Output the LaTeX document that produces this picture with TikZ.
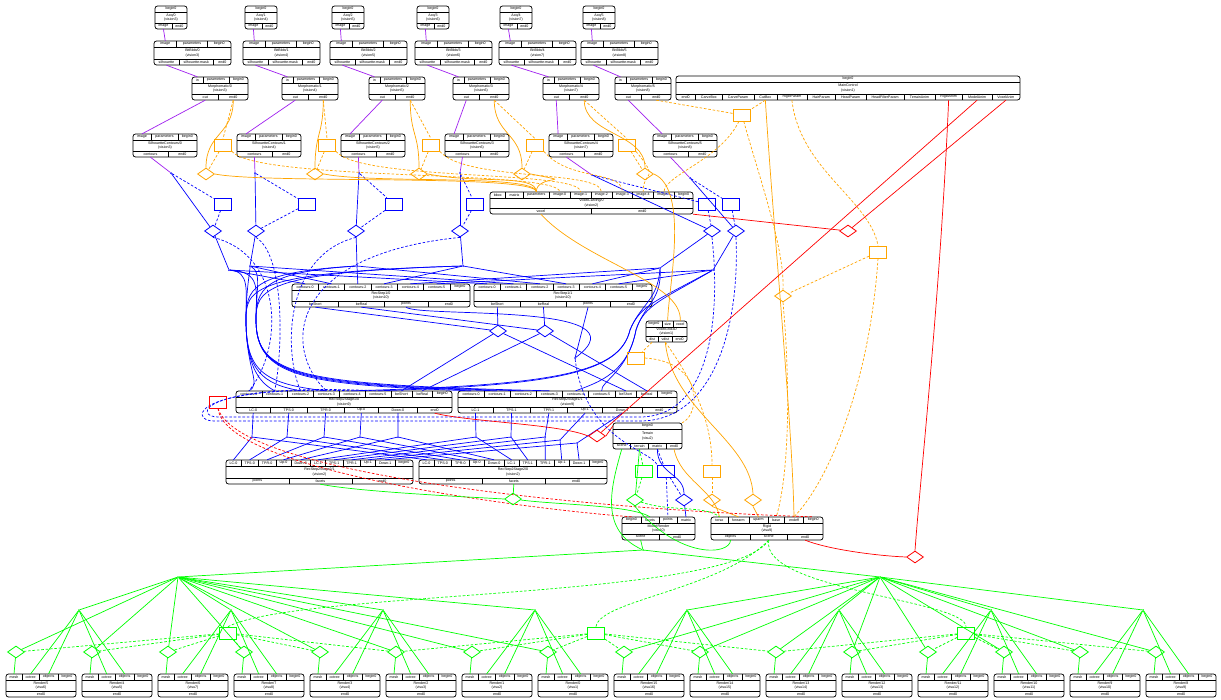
\documentclass[tikz,border=0pt]{standalone}
\usepackage{fontspec}
\setmainfont{Liberation Sans}
\usetikzlibrary{shapes.geometric}

\definecolor{vispurple}{HTML}{A020F0}
\definecolor{parorange}{HTML}{FFA500}
\definecolor{conblue}{HTML}{0000FF}
\definecolor{animred}{HTML}{FF0000}
\definecolor{scngreen}{HTML}{00FF00}

\newcommand{\tinyfont}{\fontsize{3.6}{4.3}\selectfont}

\tikzset{
  modbox/.style={draw, rounded corners=2.5pt, line width=0.75pt},
  sepline/.style={line width=0.45pt},
  cellnode/.style={inner sep=0pt, font=\tinyfont},
  titlenode/.style={inner sep=0pt, font=\tinyfont, align=center},
  prmbox/.style={draw, line width=0.8pt, minimum width=17pt, minimum height=12pt, inner sep=0pt},
  jctnode/.style={draw, diamond, line width=0.8pt, minimum width=17pt, minimum height=12pt, inner sep=0pt},
  hubdot/.style={circle, fill, inner sep=0pt, minimum size=2pt},
  wire/.style={line width=0.7pt},
  dwire/.style={wire, dash pattern=on 2.6pt off 1.8pt},
}

% one row of port cells: prefix, x1, x2, ytop, ybot, list
\newcommand{\cellrow}[6]{%
  \pgfmathsetmacro\rowmid{((#4)+(#5))/2}%
  \pgfmathsetmacro\rowh{(#5)-(#4)}%
  \gdef\rowsum{0}\gdef\rowcount{1}%
  \foreach \c [count=\nn] in {#6}{%
    \pgfmathwidth{"\c"}%
    \pgfmathsetmacro\tmpsum{\rowsum+\pgfmathresult+4}%
    \xdef\rowsum{\tmpsum}\xdef\rowcount{\nn}}%
  \pgfmathsetmacro\rowextra{((#3)-(#2)-\rowsum)/\rowcount}%
  \xdef\rowpos{#2}%
  \foreach \c [count=\i] in {#6}{%
    \pgfmathwidth{"\c"}%
    \pgfmathsetmacro\cw{\pgfmathresult+4+\rowextra}%
    \pgfmathsetmacro\cx{\rowpos+\cw/2}%
    \ifnum\i>1 \draw[sepline] (\rowpos,#4) -- (\rowpos,#5);\fi
    \node[cellnode, minimum width=\cw pt, minimum height=\rowh pt] (#1\i) at (\cx,\rowmid) {\c};
    \pgfmathsetmacro\nx{\rowpos+\cw}%
    \xdef\rowpos{\nx}}%
}

% module box: id, x1, x2, ytop, ybot, top ports, title, process, bottom ports
\newcommand{\module}[9]{%
  \pgfmathsetmacro\ya{(#4)+6}%
  \pgfmathsetmacro\yb{(#5)-6}%
  \draw[modbox] (#2,#4) rectangle (#3,#5);
  \draw[sepline] (#2,\ya) -- (#3,\ya);
  \draw[sepline] (#2,\yb) -- (#3,\yb);
  \cellrow{#1-t}{#2}{#3}{#4}{\ya}{#6}%
  \cellrow{#1-b}{#2}{#3}{\yb}{#5}{#9}%
  \node[titlenode] (#1) at ({((#2)+(#3))/2},{((#4)+(#5))/2}) {#7\\#8};
}

\begin{document}
\tinyfont
\begin{tikzpicture}[x=1pt, y=-1pt]
\fill[white] (0,0) rectangle (1221,699);
\useasboundingbox (0,0) rectangle (1221,699);

% Vision chains
\foreach \k/\ax/\bx/\mx/\sx/\vn in {0/155/154/192/133/3, 1/245/243/282/237/4, 2/332/330/369/341/5, 3/417/415/453/445/6, 4/500/499/543/549/7, 5/583/581/615/653/8}{
  \module{acq\k}{\ax}{\ax+32}{6}{29}{begin0}{Acq/\k}{(vision\vn)}{image, end0}
  \module{bb\k}{\bx}{\bx+77}{41}{65}{image, parameters, begin0}{BitBlob/\k}{(vision\vn)}{silhouette, silhouette-mask, end0}
  \module{mo\k}{\mx}{\mx+56}{77}{100}{in, parameters, begin0}{Morphomatic/\k}{(vision\vn)}{out, end0}
  \module{sc\k}{\sx}{\sx+64}{134}{157}{image, parameters, begin0}{SilhouetteContours/\k}{(vision\vn)}{contours, end0}
}

% Control, carving, grid
\module{mc}{676}{1020}{76}{100}{begin0}{MainControl}{(vision1)}{end0, CarveBox, CarveParam, CutBox, RigidParam, HairParam, HeadParam, HeadFilterParam, TerrainAnim, RigidAnim, ModelAnim, VoxelAnim}
\module{vc}{490}{693}{192}{214}{bbox, matrix, parameters, image-0, image-1, image-2, image-3, image-4, image-5, begin0}{VoxelCarving/0}{(vision2)}{voxel, end0}
\module{vg}{646}{687}{321}{342}{begin0, size, voxel}{VoxelGrid3D}{(vision1)}{dist, vdist, end0}

% Reconstruction
\foreach \k/\x in {0/292, 1/474}{
  \module{rsa\k}{\x}{\x+178}{284}{307}{contours-0, contours-1, contours-2, contours-3, contours-4, contours-5, begin0}{RecStep1/\k}{(vision10)}{beShort, beReal, points, end0}
}
\foreach \k/\x/\w in {0/236/216, 1/458/219}{
  \module{rsb\k}{\x}{\x+\w}{391}{413}{contours-0, contours-1, contours-2, contours-3, contours-4, contours-5, beShort, beReal, begin0}{RecStep2Stage1/\k}{(vision9)}{LC-\k, TPS-\k, TPR-\k, Up-\k, Down-\k, end0}
}
\module{rsc1}{226}{413}{460}{484}{LC-0, TPS-0, TPR-0, Up-0, Down-0, LC-1, TPS-1, TPR-1, Up-1, Down-1, begin0}{RecStep2Stage2/1}{(vision2)}{points, facets, end0}
\module{rsc0}{419}{607}{460}{484}{LC-0, TPS-0, TPR-0, Up-0, Down-0, LC-1, TPS-1, TPR-1, Up-1, Down-1, begin0}{RecStep2Stage2/0}{(vision2)}{points, facets, end0}

% Visualisation
\module{te}{613}{682}{423}{449}{begin0}{Terrain}{(visu2)}{scene, terrain, matrix, end0}
\module{mr}{622}{695}{517}{540}{begin0, facets, points, matrix}{ModelRender}{(visu10)}{scene, end0}
\module{rg}{711}{823}{517}{540}{torso, forearm, uparm, base, endeff, begin0}{Rigid}{(visu9)}{objects, scene, end0}
\foreach \p/\rn/\vn in {0/5/6, 1/4/5, 2/6/7, 3/7/8, 4/3/4, 5/2/3, 6/1/2, 7/0/1, 8/15/16, 9/14/15, 10/13/14, 11/12/13, 12/11/12, 13/10/11, 14/9/10, 15/8/9}{
  \pgfmathsetmacro\rx{6+76*\p}
  \module{rd\p}{\rx}{\rx+70}{674}{697}{mesh, octree, objects, begin0}{Render/\rn}{(visu\vn)}{end0}
}

% Image links
\foreach \k in {0,...,5}{
  \draw[wire, vispurple] (acq\k-b1.south) -- (bb\k-t1.north);
  \draw[wire, vispurple] (bb\k-b1.south) -- (mo\k-t1.north);
  \draw[wire, vispurple] (mo\k-b1.south) -- (sc\k-t1.north);
}

% Contour links
\foreach \k/\cx/\cy/\bx/\qx/\px/\py in {0/171/173/223/213/229/270, 1/255/173/307/256/250/266, 2/359/173/394/356/357/266, 3/460/173/475/460/463/266, 4/592/175/707/712/660/268, 5/690/178/731/736/713/270}{
  \node[hubdot, conblue] (ct\k) at (\cx,\cy) {};
  \node[prmbox, conblue] (pb\k) at (\bx,204) {};
  \node[jctnode, conblue] (jb\k) at (\qx,231) {};
  \node[hubdot, conblue] (pc\k) at (\px,\py) {};
}
\foreach \k in {0,...,5}{
  \pgfmathtruncatemacro\nk{\k+1}
  \draw[wire, vispurple] (sc\k-b1.south) -- (ct\k);
  \draw[dwire, conblue] (ct\k) -- (pb\k);
  \draw[dwire, conblue] (pb\k) -- (jb\k);
  \draw[wire, conblue] (ct\k) -- (jb\k);
  \draw[wire, conblue] (jb\k) -- (pc\k);
  \draw[wire, conblue] (pc\k) -- (rsa0-t\nk.north);
  \draw[wire, conblue] (pc\k) -- (rsa1-t\nk.north);
}
\foreach \k in {0,...,3}{
  \pgfmathtruncatemacro\nk{\k+1}
  \draw[wire, conblue] (pc\k) .. controls (250,272) and (246,290) .. (246,320) .. controls (246,370) and (262,384) .. (rsb0-t\nk.north);
  \draw[wire, conblue] (pc\k) .. controls (262,272) and (256,290) .. (256,320) .. controls (256,376) and (300,385) .. (rsb1-t\nk.north);
  \draw[dwire, conblue] (jb\k.south) .. controls (285,255) and (283,350) .. (rsb0-t\nk.north);
}
\foreach \k in {4,5}{
  \pgfmathtruncatemacro\nk{\k+1}
  \draw[wire, conblue] (pc\k) .. controls (658,300) and (640,305) .. (630,330) .. controls (620,372) and (560,385) .. (rsb0-t\nk.north);
  \draw[wire, conblue] (pc\k) .. controls (662,300) and (644,305) .. (636,330) .. controls (628,372) and (600,382) .. (rsb1-t\nk.north);
}
\draw[dwire, conblue] (jb4.south) .. controls (722,330) and (705,417) .. (640,417) -- (218,417) .. controls (195,417) and (196,386) .. (rsb0-t5.north);
\draw[dwire, conblue] (jb5.south) .. controls (740,330) and (712,421) .. (640,421) -- (214,421) .. controls (188,421) and (190,382) .. (rsb0-t6.north);

% Edge lists
\node[jctnode, conblue] (jb6) at (498,331) {};
\node[jctnode, conblue] (jb7) at (545,331) {};
\node[hubdot, conblue] (pj) at (575,358) {};
\foreach \k in {0,1}{
  \draw[wire, conblue] (rsa\k-b1.south) -- (jb6);
  \draw[wire, conblue] (rsa\k-b2.south) -- (jb7);
  \draw[wire, conblue] (jb6) -- (rsb\k-t7.north);
  \draw[wire, conblue] (jb7) -- (rsb\k-t8.north);
}
\draw[wire, conblue] (rsa0-b3.south) .. controls (420,318) and (650,302) .. (pj);
\draw[wire, conblue] (rsa1-b3.south) -- (pj);

% Stage outputs
\foreach \n/\ax/\bx/\by in {1/252/476/437, 2/287/511/437, 3/324/545/437, 4/360/560/440, 5/398/577/443}{
  \pgfmathtruncatemacro\m{\n+5}
  \node[hubdot, conblue] (ya\n) at (\ax,437) {};
  \node[hubdot, conblue] (yb\n) at (\bx,\by) {};
  \draw[wire, conblue] (rsb0-b\n.south) -- (ya\n);
  \draw[wire, conblue] (ya\n) -- (rsc1-t\n.north);
  \draw[wire, conblue] (ya\n) -- (rsc0-t\n.north);
  \draw[wire, conblue] (rsb1-b\n.south) -- (yb\n);
  \draw[wire, conblue] (yb\n) -- (rsc1-t\m.north);
  \draw[wire, conblue] (yb\n) -- (rsc0-t\m.north);
}

% Carving parameters
\foreach \k/\rx/\dx in {0/223/206, 1/327/315, 2/431/419, 3/535/522, 4/627/645}{
  \node[prmbox, parorange] (pa\k) at (\rx,145) {};
  \node[jctnode, parorange] (ja\k) at (\dx,174) {};
}
\node[prmbox, parorange] (pa5) at (742,115) {};
\node[prmbox, parorange] (pa6) at (878,252) {};
\node[prmbox, parorange] (pa7) at (636,358) {};
\node[prmbox, parorange] (pa8) at (712,471) {};
\node[jctnode, parorange] (ja5) at (783,296) {};
\node[jctnode, parorange] (ja6) at (712,500) {};
\node[jctnode, parorange] (ja7) at (753,500) {};
\foreach \k/\m in {0/4, 1/5, 2/6, 3/7, 4/8}{
  \draw[wire, parorange] (mo\k-b2.south) .. controls +(0,35) and +(0,-35) .. (ja\k.north);
  \draw[dwire, parorange] (mo\k-b2.south) -- (pa\k.north);
  \draw[dwire, parorange] (pa\k) -- (ja\k);
  \draw[dwire, parorange] (pa\k.south east) .. controls +(25,30) and +(0,-22) .. (vc-t\m.north);
}
\foreach \k in {0,...,3}{
  \draw[wire, parorange] (ja\k.east) .. controls +(50,10) and +(0,-18) .. (vc-t3.north);
}
\draw[wire, parorange] (ja4.east) .. controls (690,190) and (668,290) .. (vg-t2.north);
\draw[dwire, parorange] (mo5-b2.south) -- (pa5);
\draw[dwire, parorange] (mc-b4.south) -- (pa5);
\draw[dwire, parorange] (pa5) .. controls (720,160) and (665,175) .. (vc-t9.north);
\draw[dwire, parorange] (pa5) .. controls (760,180) and (785,250) .. (ja5.north);
\draw[dwire, parorange] (mc-b5.south) .. controls (800,170) and (870,200) .. (pa6.north);
\draw[dwire, parorange] (pa6) -- (ja5);
\draw[dwire, parorange] (pa6.south) .. controls (870,380) and (830,480) .. (rg-t5.north);
\draw[dwire, parorange] (ja5.south) .. controls (790,380) and (790,470) .. (rg-t4.north);
\draw[wire, parorange] (mc-b4.south) .. controls (775,250) and (792,420) .. (rg-t5.north);
\draw[wire, parorange] (vc-b1.south) .. controls (585,262) and (683,282) .. (vg-t3.north);
\draw[dwire, parorange] (vg-b1.south) -- (pa7);
\draw[dwire, parorange] (pa7.east) .. controls (705,362) and (700,415) .. (te-t1.north east);
\draw[wire, parorange] (vg-b2.south) .. controls (672,410) and (750,440) .. (ja7.north);
\draw[dwire, parorange] (vg-b2.south) .. controls (700,390) and (712,430) .. (pa8.north);
\draw[dwire, parorange] (pa8) -- (ja6);
\draw[wire, parorange] (ja6.south) -- (rg-t2.north);
\draw[wire, parorange] (ja7.south) -- (rg-t3.north);
\draw[wire, parorange] (te-b4.south) .. controls (680,480) and (715,490) .. (rg-t1.north);

% Animation
\node[jctnode, animred] (jr0) at (848,231) {};
\node[jctnode, animred] (jr1) at (597,436) {};
\node[jctnode, animred] (jr2) at (915,557) {};
\node[prmbox, animred] (pr0) at (218,402) {};
\draw[wire, animred] (mc-b12.south) -- (jr0);
\draw[wire, animred] (jr0) -- (vc-b2.south east);
\draw[wire, animred] (mc-b11.south) -- (jr1);
\draw[wire, animred] (rsb0-b6.south) .. controls (470,422) and (560,424) .. (jr1.west);
\draw[wire, animred] (jr1.east) -- (te-t1.west);
\draw[wire, animred] (mc-b10.south) .. controls (940,300) and (920,480) .. (jr2.north);
\draw[wire, animred] (rg-b3.south) .. controls (830,550) and (880,556) .. (jr2.west);
\draw[dwire, animred] (pr0.south) .. controls (225,475) and (560,512) .. (mr-t1.north);
\draw[dwire, animred] (pr0.south) .. controls (240,480) and (640,512) .. (rg-t6.north);

% Terrain and model links
\node[prmbox, conblue] (pb6) at (666,471) {};
\node[jctnode, conblue] (jb8) at (684,500) {};
\node[prmbox, scngreen] (pg0) at (644,471) {};
\node[jctnode, scngreen] (jg0) at (513,499) {};
\node[jctnode, scngreen] (jg1) at (635,500) {};
\draw[dwire, conblue] (pj) .. controls (585,440) and (650,450) .. (pb6.north west);
\draw[dwire, conblue] (te-b3.south) -- (pb6);
\draw[wire, conblue] (te-b3.south) .. controls +(0,25) and +(0,-20) .. (jb8.north);
\draw[dwire, conblue] (pb6) -- (mr-t3.north);
\draw[dwire, conblue] (pb6) -- (jb8);
\draw[wire, conblue] (jb8) -- (mr-t4.north);
\draw[wire, scngreen] (rsc1-b2.south) .. controls (360,492) and (470,497) .. (jg0.west);
\draw[wire, scngreen] (rsc0-b2.south) -- (jg0);
\draw[wire, scngreen] (jg0) .. controls (560,505) and (630,505) .. (mr-t2.north);
\draw[dwire, scngreen] (te-b2.south) -- (pg0);
\draw[wire, scngreen] (te-b2.south) -- (jg1);
\draw[dwire, scngreen] (pg0) -- (jg1);
\draw[dwire, scngreen] (jg1) .. controls (670,512) and (705,505) .. (rg-t1.north);
\draw[wire, scngreen] (jg1.south) .. controls (680,560) and (730,555) .. (rg-b1.south);

% Render tree
\node[hubdot, scngreen] (gt) at (643,550) {};
\node[hubdot, scngreen] (lh0) at (178,577) {};
\node[hubdot, scngreen] (lh1) at (880,577) {};
\draw[wire, scngreen] (mr-b1.south) -- (gt);
\draw[wire, scngreen] (te-b1.south) .. controls (610,490) and (600,530) .. (gt);
\draw[wire, scngreen] (gt) -- (lh0);
\draw[wire, scngreen] (gt) -- (lh1);
\foreach \j in {0,...,7}{
  \pgfmathsetmacro\gx{79+152*\j}
  \pgfmathtruncatemacro\ga{2*\j}
  \pgfmathtruncatemacro\gb{2*\j+1}
  \pgfmathtruncatemacro\gs{\j/4}
  \node[hubdot, scngreen] (gm\j) at (\gx,610) {};
  \draw[wire, scngreen] (lh\gs) -- (gm\j);
  \draw[wire, scngreen] (gm\j) -- (rd\ga-t3.north);
  \draw[wire, scngreen] (gm\j) -- (rd\gb-t3.north);
  \draw[wire, scngreen] (gm\j) -- (rd\ga-t2.north);
  \draw[wire, scngreen] (gm\j) -- (rd\gb-t2.north);
}
\node[prmbox, scngreen] (pg1) at (228,633) {};
\node[prmbox, scngreen] (pg2) at (596,633) {};
\node[prmbox, scngreen] (pg3) at (966,633) {};
\foreach \p in {0,...,15}{
  \pgfmathsetmacro\dx{16+76*\p}
  \pgfmathtruncatemacro\gs{\p/8}
  \node[jctnode, scngreen] (gd\p) at (\dx,652) {};
  \draw[wire, scngreen] (gd\p) -- (rd\p-t1.north);
  \draw[wire, scngreen] (lh\gs) -- (gd\p);
}
\foreach \p in {0,...,5}{\draw[dwire, scngreen] (pg1) -- (gd\p);}
\foreach \p in {5,...,10}{\draw[dwire, scngreen] (pg2) -- (gd\p);}
\foreach \p in {10,...,15}{\draw[dwire, scngreen] (pg3) -- (gd\p);}
\draw[dwire, scngreen] (rg-b2.south) .. controls (730,600) and (300,590) .. (pg1.north);
\draw[dwire, scngreen] (rg-b2.south) .. controls (720,590) and (600,600) .. (pg2.north);
\draw[dwire, scngreen] (rg-b2.south) .. controls (760,590) and (966,600) .. (pg3.north);

\end{tikzpicture}
\end{document}
